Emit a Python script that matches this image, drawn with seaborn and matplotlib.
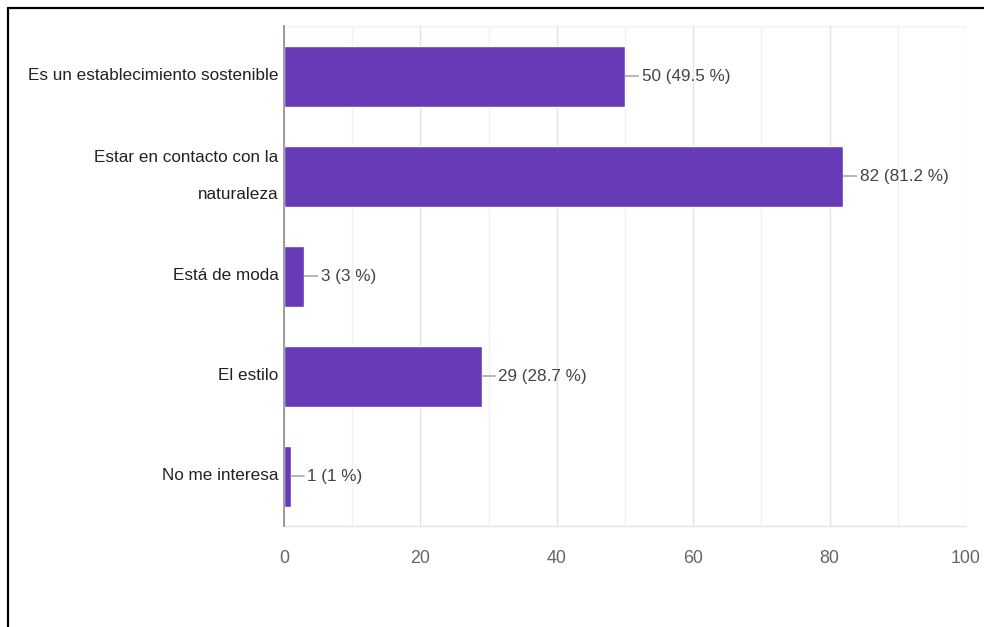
import matplotlib
matplotlib.use("Agg")
import matplotlib.pyplot as plt
from matplotlib.lines import Line2D
from matplotlib.ticker import MultipleLocator
import pandas as pd
import seaborn as sns

# Survey answers and counts (101 respondents)
categories = [
    "Es un establecimiento sostenible",
    "Estar en contacto con la\nnaturaleza",
    "Está de moda",
    "El estilo",
    "No me interesa",
]
counts = [50, 82, 3, 29, 1]
percents = ["49.5", "81.2", "3", "28.7", "1"]
x_ticks = [0, 20, 40, 60, 80, 100]

df = pd.DataFrame({"opcion": categories, "respuestas": counts})

sns.set_theme(style="white")
plt.rcParams["font.family"] = ["Liberation Sans", "DejaVu Sans"]

FS = 12.3
W, H, DPI = 984, 627, 100
fig = plt.figure(figsize=(W / DPI, H / DPI), dpi=DPI, facecolor="white")
ax = fig.add_axes([284 / W, 1 - 526 / H, (966 - 284) / W, 500 / H])

sns.barplot(data=df, y="opcion", x="respuestas", orient="h", color="#673ab7",
            saturation=1, width=0.61, ax=ax, zorder=3)

ax.set_xlim(0, 100)
ax.set_ylim(len(categories) - 0.5, -0.5)
ax.set_xticks(x_ticks)
ax.set_xticklabels([str(t) for t in x_ticks])
ax.xaxis.set_minor_locator(MultipleLocator(10))
ax.set_xlabel("")
ax.set_ylabel("")

# light vertical grid, fainter at the odd tens
ax.grid(axis="x", which="major", color="#e3e3e3", lw=1, zorder=0)
ax.grid(axis="x", which="minor", color="#f1f1f1", lw=1, zorder=0)
ax.grid(axis="y", visible=False)
ax.set_axisbelow(True)

for side in ("top", "right"):
    ax.spines[side].set_visible(False)
ax.spines["left"].set_color("#8c8c8c")
ax.spines["left"].set_linewidth(1.2)
ax.spines["left"].set_zorder(4)
ax.spines["bottom"].set_color("#e3e3e3")
ax.spines["bottom"].set_linewidth(1)
ax.axhline(-0.5, color="#f1f1f1", lw=1, zorder=0)

ax.tick_params(axis="x", length=0, pad=17, labelsize=FS + 0.5, labelcolor="#666666")
ax.tick_params(axis="y", length=0, pad=4, labelsize=FS, labelcolor="#222222")
for lab in ax.get_yticklabels():
    lab.set_linespacing(2.8)
    lab.set_verticalalignment("center")

# value labels with a short leader line from the bar end
for i, (v, p) in enumerate(zip(counts, percents)):
    ax.annotate(f"{v} ({p} %)", xy=(v, i), xytext=(12, 0), textcoords="offset points",
                va="center", ha="left", fontsize=FS, color="#444444",
                arrowprops=dict(arrowstyle="-", color="#999999", lw=1,
                                shrinkA=0, shrinkB=0, relpos=(0, 0.5)),
                annotation_clip=False, zorder=5)

# frame lines along the top and left edges of the figure
fig.add_artist(Line2D([8 / W, 1], [1 - 8 / H, 1 - 8 / H], transform=fig.transFigure,
                      color="black", lw=1.6))
fig.add_artist(Line2D([8 / W, 8 / W], [0, 1 - 8 / H], transform=fig.transFigure,
                      color="black", lw=1.6))

fig.savefig("out.png", dpi=DPI, facecolor="white")
